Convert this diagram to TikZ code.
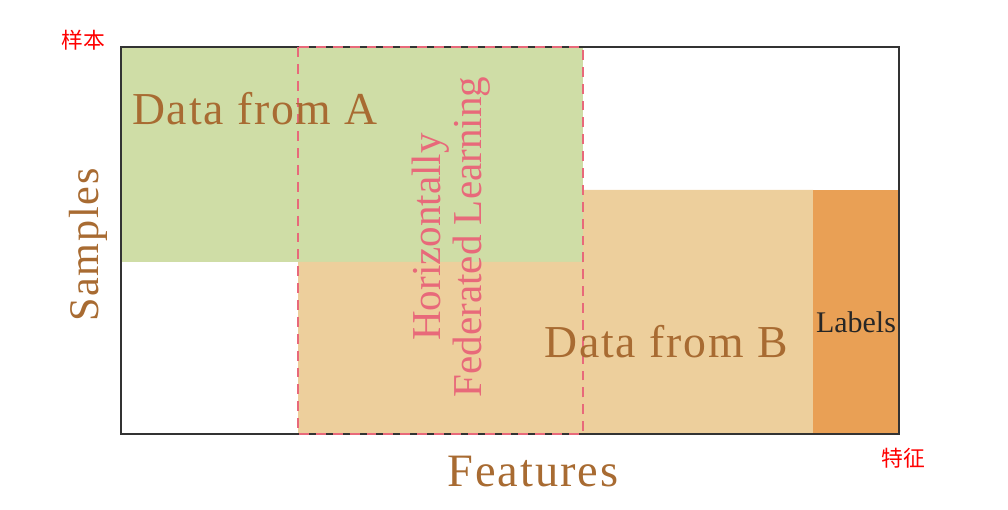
\documentclass[tikz,border=0pt]{standalone}
\usepackage{fontspec}
\setmainfont{Liberation Serif}
\newfontfamily\spacedserif[LetterSpace=4]{Liberation Serif}
\newfontfamily\cjk{Noto Sans CJK SC}
\definecolor{dataA}{HTML}{CFDDA6}
\definecolor{dataB}{HTML}{EDCF9C}
\definecolor{labelfill}{HTML}{E9A055}
\definecolor{brown}{HTML}{A86B32}
\definecolor{hfl}{HTML}{E8697A}
\definecolor{frame}{HTML}{333333}
\tikzset{
  bigtext/.style={text=brown, font=\spacedserif\fontsize{32.5}{36}\selectfont},
  cjknote/.style={text=red, font=\cjk\fontsize{15.5}{17}\selectfont},
}
\begin{document}
\begin{tikzpicture}[x=0.025cm, y=-0.025cm]
		\useasboundingbox (0,0) rectangle (1008,510);
		
		% Bloques de datos
		\fill[dataA] (121,47) rectangle (583,262);
		\fill[dataB] (298,262) -- (583,262) -- (583,190) -- (813,190) -- (813,434) -- (298,434) -- cycle;
		\fill[labelfill] (813,190) rectangle (899,434);
		
		% Marco
		\draw[frame, line width=1.4pt] (121,47) rectangle (899,434);
		
		% Zona horizontal (discontinua)
		\draw[hfl, line width=1.7pt, dash pattern=on 7pt off 5pt] (298,47) rectangle (583,434);
		
		% Etiquetas
		\node[bigtext, anchor=base] (dataa) at (255,125) {Data from A};
		\node[bigtext, anchor=base] (datab) at (666,358) {Data from B};
		\node[text=black!85, anchor=base, font=\fontsize{21.3}{24}\selectfont] (labels) at (856,333) {Labels};
		\node[text=hfl, rotate=90, align=center, font=\fontsize{29.2}{29.2}\selectfont] (hfllabel) at (451,237) {Horizontally\\Federated Learning};
		\node[bigtext, rotate=90, font=\spacedserif\fontsize{30}{34}\selectfont] (samples) at (88,245) {Samples};
		\node[bigtext, anchor=base, font=\spacedserif\fontsize{33}{36}\selectfont] (features) at (533,487) {Features};
		
		% Notas
		\node[cjknote] (yangben) at (83,40) {样本};
		\node[cjknote] (tezheng) at (903,458) {特征};
		
		
	\end{tikzpicture}
\end{document}
